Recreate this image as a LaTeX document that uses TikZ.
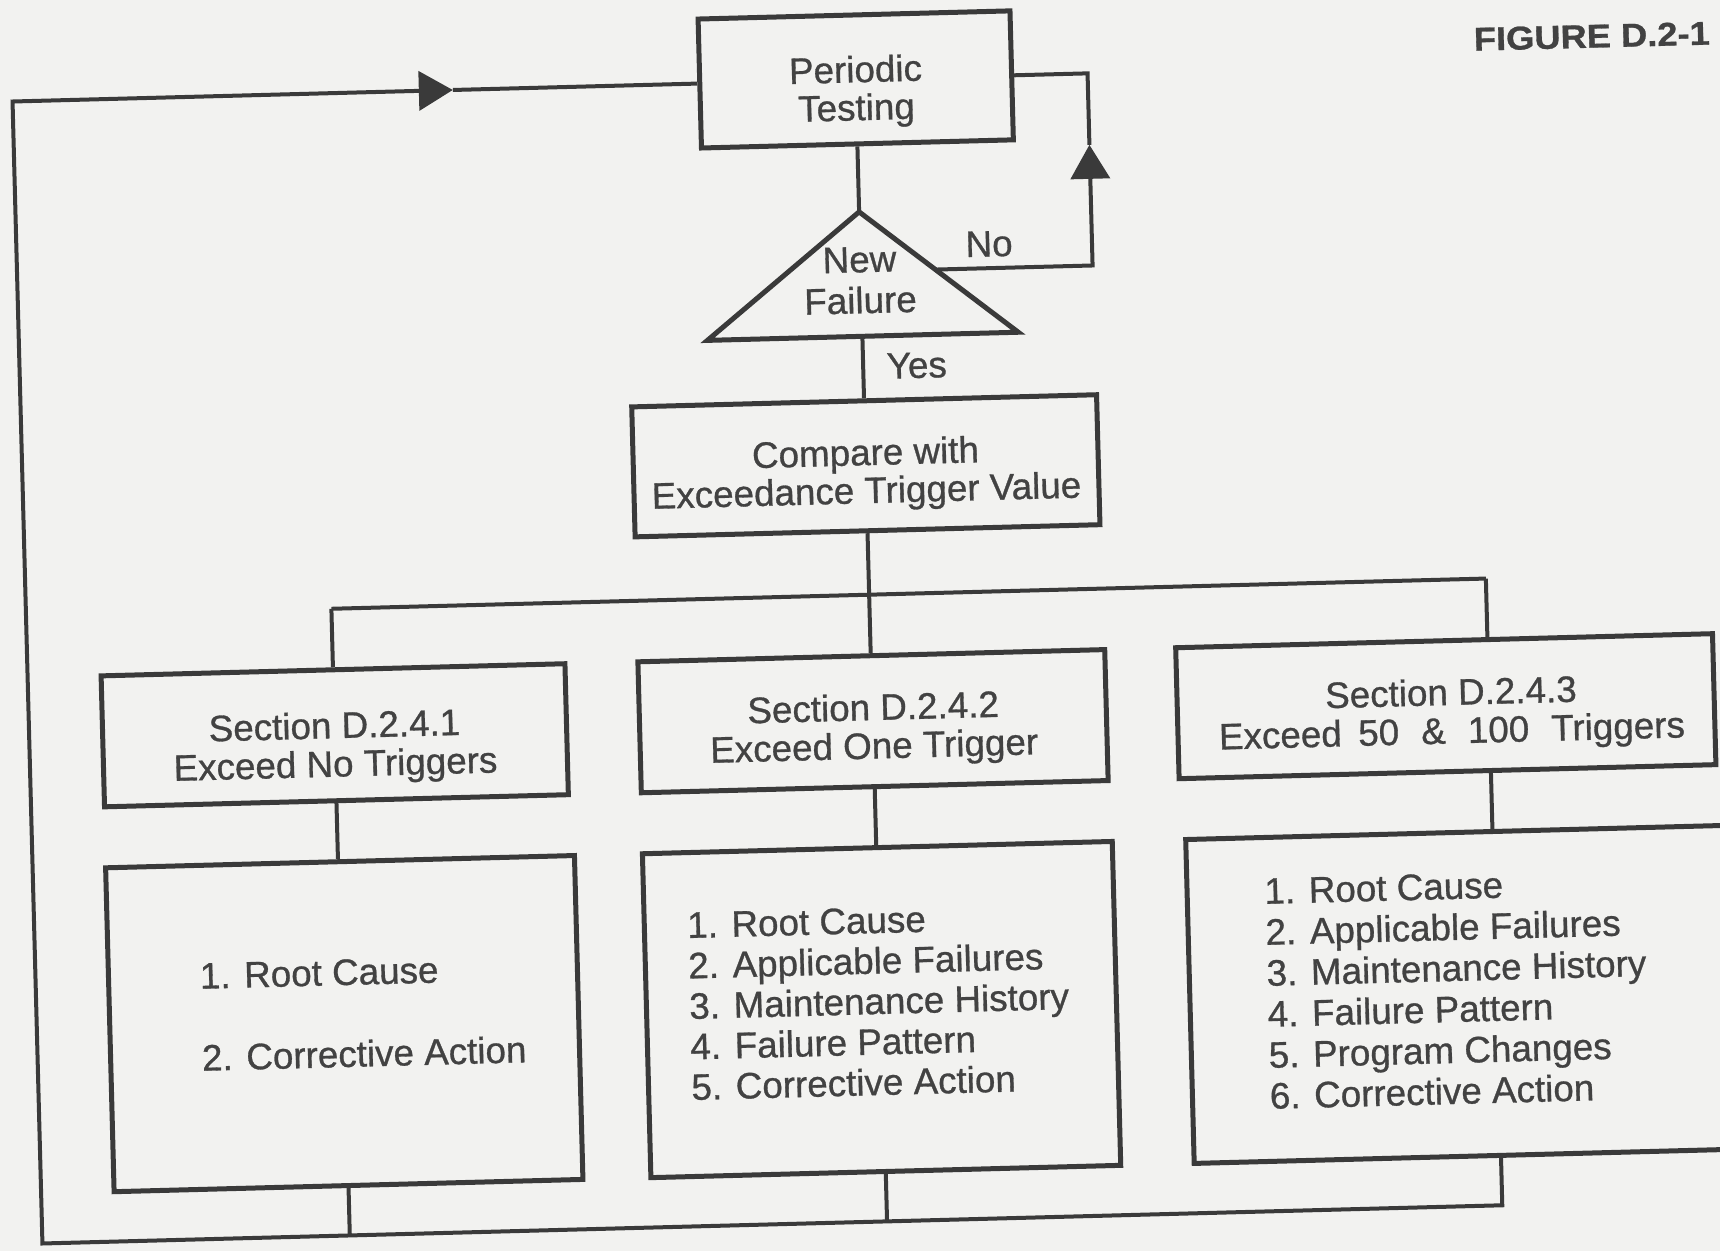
\documentclass[tikz,border=0pt]{standalone}
\usepackage{fontspec}
\setmainfont{Liberation Sans}[FakeBold=0.8]
\usepackage{graphicx}
\usetikzlibrary{arrows.meta,calc}
\definecolor{ink}{RGB}{58,58,58}
\definecolor{inktext}{RGB}{66,66,66}
\definecolor{paper}{RGB}{242,242,240}
\newcommand{\tstrut}{\rule{0pt}{14pt}}
\begin{document}
\begin{tikzpicture}[x=0.5pt,y=-0.5pt,
  boxs/.style={draw=ink,line width=2.5pt,inner sep=0pt,rectangle},
  conn/.style={draw=ink,line width=2pt},
  tipc/.style={-{Triangle[length=17pt,width=19.5pt]}},
  txt/.style={inner sep=0pt,text=inktext,align=center,anchor=north,
              font=\fontsize{18.4pt}{19pt}\selectfont},
  ltxt/.style={inner sep=0pt,text=inktext,align=left,anchor=north west},
  lbl/.style={inner sep=0pt,text=inktext,anchor=base,
              font=\fontsize{18.4pt}{19pt}\selectfont}]
\useasboundingbox (0,0) rectangle (1720,1251);
\fill[paper] (0,0) rectangle (1720,1251);
\begin{scope}[rotate around={1.5:(860,625)},transform shape]
% boxes
\node[boxs,minimum width=156pt,minimum height=64.5pt] (pt) at (870,79.5) {};
\node[boxs,minimum width=232.5pt,minimum height=65pt] (cmp) at (870,466) {};
\node[boxs,minimum width=232pt,minimum height=65.5pt] (s1) at (332,721.5) {};
\node[boxs,minimum width=233.5pt,minimum height=65.5pt] (s2) at (870.5,721.5) {};
\node[boxs,minimum width=268.5pt,minimum height=65.5pt] (s3) at (1443.5,721.5) {};
\node[boxs,minimum width=234.5pt,minimum height=162pt] (l1) at (334,1010) {};
\node[boxs,minimum width=235pt,minimum height=162pt] (l2) at (871.5,1010) {};
\node[boxs,minimum width=282.5pt,minimum height=162pt] (l3) at (1462.5,1010) {};
% decision triangle
\coordinate (nfA) at (870,212);
\coordinate (nfL) at (715,336.5);
\coordinate (nfR) at (1026,336.5);
\coordinate (nfB) at (870,336.5);
\draw[draw=ink,line width=2.5pt] (nfA) -- (nfL) -- (nfR) -- cycle;
% helper coordinates
\coordinate (nfNo) at ($(nfA)!0.4795!(nfR)$);
\coordinate (noC) at (1102,271.7);
\coordinate (noArr) at (1102,151);
\coordinate (noTop) at (1102,79.5);
\coordinate (busL) at (332,595);
\coordinate (busM) at (870,595);
\coordinate (busR) at (1487,595);
\coordinate (botR) at (1487,1222);
\coordinate (botL) at (26.5,1222);
\coordinate (topL) at (26.5,79.5);
\coordinate (arrL) at (467,79.5);
% connectors
\draw[conn] (pt.south) -- (nfA);
\draw[conn,tipc] (nfNo) -- (noC) -- (noArr);
\draw[conn] (noArr) -- (noTop) -- (pt.east);
\draw[conn] (nfB) -- (cmp.north);
\draw[conn] (cmp.south) -- (busM);
\draw[conn] (busL) -- (busR);
\draw[conn] (busL) -- (busL |- s1.north);
\draw[conn] (busM) -- (busM |- s2.north);
\draw[conn] (busR) -- (busR |- s3.north);
\draw[conn] (s1.south) -- (s1.south |- l1.north);
\draw[conn] (s2.south) -- (s2.south |- l2.north);
\draw[conn] (s3.south -| busR) -- (busR |- l3.north);
\draw[conn] (l1.south) -- (l1.south |- botL);
\draw[conn] (l2.south) -- (l2.south |- botL);
\draw[conn,tipc] (l3.south -| botR) -- (botR) -- (botL) -- (topL) -- (arrL);
\draw[conn] (arrL) -- (pt.west);
% texts
\node[txt] (ptT) at (870,54) {\tstrut Periodic\\Testing};
\node[txt,font=\fontsize{18.4pt}{20.5pt}\selectfont] (nfT) at (869,244) {\tstrut New\\Failure};
\node[lbl] (noT) at (999,260) {No};
\node[lbl] (yesT) at (923.5,379.5) {Yes};
\node[txt] (cmpT) at (870,437) {\tstrut Compare with\\Exceedance Trigger Value};
\node[txt,font=\fontsize{18.4pt}{19.25pt}\selectfont] (s1T) at (332,696) {\tstrut Section D.2.4.1\\Exceed No Triggers};
\node[txt,font=\fontsize{18.4pt}{19.25pt}\selectfont] (s2T) at (871,692) {\tstrut Section D.2.4.2\\Exceed One Trigger};
\node[txt,font=\fontsize{18.4pt}{19.25pt}\selectfont] (s3T) at (1449,692) {\tstrut Section D.2.4.3\\Exceed\hspace{0.45em}50\hspace{0.6em}\&\hspace{0.6em}100\hspace{0.6em}Triggers};
\node[ltxt,font=\fontsize{18.4pt}{20.5pt}\selectfont] (l1T) at (190.5,943) {\tstrut 1. Root Cause\\[20.5pt]2. Corrective Action};
\node[ltxt,font=\fontsize{18.4pt}{20.25pt}\selectfont] (l2T) at (679,905) {\tstrut 1. Root Cause\\2. Applicable Failures\\3. Maintenance History\\4. Failure Pattern\\5. Corrective Action};
\node[ltxt,font=\fontsize{18.4pt}{20.5pt}\selectfont] (l3T) at (1257,886) {\tstrut 1. Root Cause\\2. Applicable Failures\\3. Maintenance History\\4. Failure Pattern\\5. Program Changes\\6. Corrective Action};
\node[lbl,font=\fontsize{16.5pt}{18pt}\selectfont\bfseries] (figT) at (1607,67) {\scalebox{1.1}[1]{FIGURE D.2-1}};
\end{scope}
\end{tikzpicture}
\end{document}
